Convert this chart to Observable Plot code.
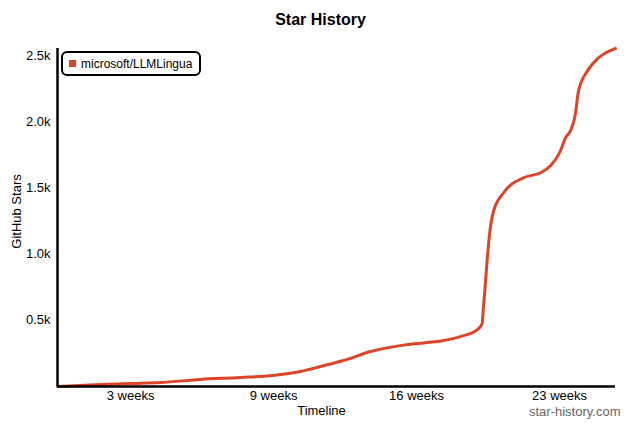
<!DOCTYPE html>
<html>
<head>
<meta charset="utf-8">
<script src="https://cdn.jsdelivr.net/npm/d3@7"></script>
<script src="https://cdn.jsdelivr.net/npm/@observablehq/plot@0.6"></script>
<style>
  html, body { margin: 0; padding: 0; background: #fff; }
  #wrap { position: relative; width: 640px; height: 426px; font-family: "Liberation Sans", Arial, sans-serif; }
  #legend { position: absolute; left: 61px; top: 51px; width: 140px; height: 25px; border: 2px solid #000; border-radius: 6px; box-sizing: border-box; background: #fff; font-size: 12px; display: flex; align-items: center; }
  #legend .sw { width: 7px; height: 7px; background: #dd4528; margin-left: 6px; margin-right: 5px; }
</style>
</head>
<body>
<div id="wrap"></div>
<script>
const repo = "microsoft/LLMLingua";
const days  = [0, 13.8, 23.5, 33, 46, 58.9, 69.2, 78.2, 84.6, 92, 100.7, 112.6, 124.2, 129.6, 135.1, 136.6, 137, 137.4, 138.2, 139, 140.3, 143.5, 149.9, 155.4, 158.6, 161.8, 163.4, 165, 166.6, 167.6, 170.5, 172.4, 179.5];
const stars = [0, 15, 23, 30, 53, 68, 83, 113, 151, 196, 264, 317, 347, 377, 430, 475, 596, 701, 950, 1154, 1327, 1463, 1576, 1614, 1666, 1779, 1877, 1930, 2058, 2232, 2383, 2443, 2552];
const xTicks = [23.5, 69.5, 115.5, 161.5];
const yTicks = [500, 1000, 1500, 2000, 2500];

const data = days.map((d, i) => ({day: d, stars: stars[i]}));

const chart = Plot.plot({
  width: 640,
  height: 426,
  marginTop: 48,
  marginBottom: 40,
  marginLeft: 57,
  marginRight: 25,
  style: {fontFamily: "'Liberation Sans', Arial, sans-serif", fontSize: "13px", color: "#000", background: "#fff"},
  x: {domain: [0, 179.5], ticks: xTicks, tickFormat: d => Math.floor(d / 7) + " weeks", tickSize: 0, tickPadding: 4, label: null},
  y: {domain: [0, 2552], ticks: yTicks, tickFormat: d => (d / 1000).toFixed(1) + "k", tickSize: 0, tickPadding: 7, label: null},
  marks: [
    Plot.line(data, {x: "day", y: "stars", stroke: "#dd4528", strokeWidth: 3, curve: "monotone-x"}),
    Plot.ruleY([0], {stroke: "#000", strokeWidth: 2.5}),
    Plot.ruleX([0], {stroke: "#000", strokeWidth: 2.5}),
    Plot.text(["Star History"], {frameAnchor: "top", dy: -35, dx: -16, fontSize: 16, fontWeight: "bold", fill: "#000"}),
    Plot.text(["Timeline"], {frameAnchor: "bottom", dy: 28, dx: -15, fontSize: 13, fill: "#000"}),
    Plot.text(["GitHub Stars"], {frameAnchor: "left", textAnchor: "middle", dx: -41, dy: -6, rotate: -90, fontSize: 13, fill: "#000"}),
    Plot.text(["star-history.com"], {frameAnchor: "bottom-right", dy: 29, dx: 5, textAnchor: "end", fontSize: 13, fill: "#666"})
  ]
});

const wrap = document.getElementById("wrap");
wrap.appendChild(chart);
const lg = document.createElement("div");
lg.id = "legend";
lg.innerHTML = '<span class="sw"></span><span>' + repo + '</span>';
wrap.appendChild(lg);
</script>
</body>
</html>
